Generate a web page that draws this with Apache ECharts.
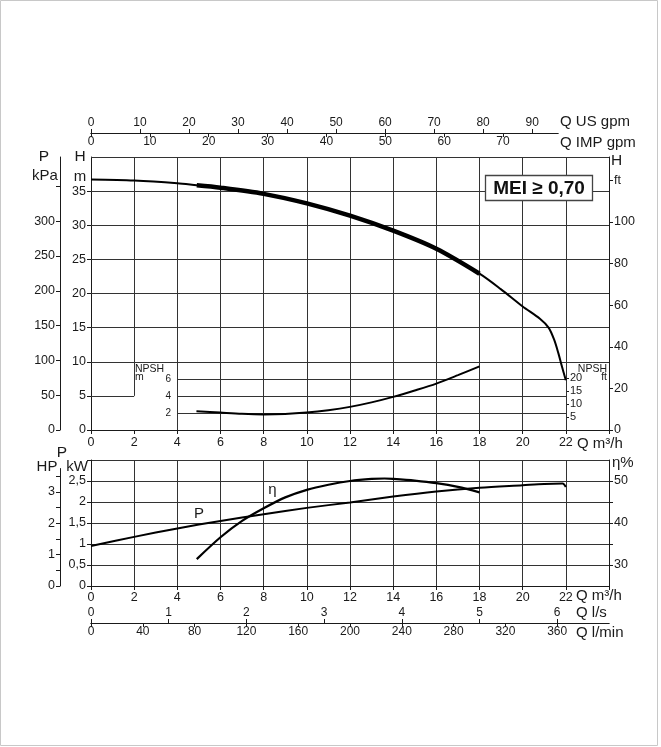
<!DOCTYPE html>
<html><head><meta charset="utf-8">
<script src="https://cdn.jsdelivr.net/npm/echarts@6/dist/echarts.min.js"></script>
<style>html,body{margin:0;padding:0;background:#fff}#c{width:661px;height:747px}</style>
</head><body><div id="c"></div>
<script>
// ---- data ----
const headData = [[0,36.7],[2,36.55],[4,36.15],[4.9,35.85],[6,35.5],[8,34.6],[10,33.2],[12,31.4],[14,29.2],[16,26.55],[18,22.9],[19,20.6],[20,18.1],[20.8,16.3],[21.2,15.0],[21.45,13.3],[21.65,11.3],[21.82,9.3],[22,7.3]];
const headBepRange = [4.9, 18];
const npshData = [[4.9,2.22],[6,2.05],[7,1.9],[8,1.83],[9,1.88],[10,2.05],[11,2.33],[12,2.72],[13,3.25],[14,3.9],[15,4.65],[16,5.46],[17,6.45],[18,7.49]];
const powerData = [[0,0.95],[2,1.17],[4,1.37],[6,1.55],[8,1.71],[10,1.86],[12,1.99],[14,2.13],[16,2.25],[18,2.34],[20,2.40],[21,2.43],[21.85,2.44],[22,2.36]];
const effData = [[4.9,31.4],[6,36.6],[7,40.5],[8,43.5],[9,46.1],[10,47.9],[11,49.1],[12,50.0],[13,50.5],[13.6,50.6],[14,50.5],[15,50.1],[16,49.5],[17,48.6],[18,47.3]];

// tick labels
const qLabels = [0,2,4,6,8,10,12,14,16,18,20,22];
const hMLabels = [0,5,10,15,20,25,30,35];
const kpaTicks = [0,50,100,150,200,250,300,350];
const kpaLabels = [0,50,100,150,200,250,300];
const hFtTicks = [0,20,40,60,80,100,120];
const npshMLabels = [2,4,6];
const npshFtLabels = [5,10,15,20];
const usGpmLabels = [0,10,20,30,40,50,60,70,80,90];
const impGpmLabels = [0,10,20,30,40,50,60,70];
const kwLabels = [0,0.5,1,1.5,2,2.5];
const etaTicks = [30,35,40,45,50];
const etaLabels = [30,40,50];
const hpTicks = [0,0.5,1,1.5,2,2.5,3,3.5];
const hpLabels = [0,1,2,3];
const lsLabels = [0,1,2,3,4,5,6];
const lminLabels = [0,40,80,120,160,200,240,280,320,360];
const meiText = 'MEI ≥ 0,70';

// unit conversions
const KPA_PER_M = 9.80665, M_PER_FT = 0.3048, M3H_PER_USGPM = 0.227125, M3H_PER_IMPGPM = 0.272765;
const KW_PER_HP = 0.7457, M3H_PER_LS = 3.6, M3H_PER_LMIN = 0.06;
const Q_MAX = 24, H_MAX = 40, NPSH_MAX = 8, KW_MAX = 3;
const TOPAX_QMAX = 21.64, HP_MAX = 3.75;

const FONT = 'Liberation Sans, Arial, Helvetica, sans-serif';
const INK = '#1a1a1a', GRID = '#333';
const lbl = (size, extra) => Object.assign({fontFamily: FONT, fontSize: size, color: INK}, extra || {});
const line = {lineStyle: {color: INK, width: 1}};
const SMOOTH = 0.3;

// grid lines of the upper chart (library markLines in data units)
const gridMarks = [];
[4,6,8,10,12,14,16,18,20,22].forEach(q => gridMarks.push({xAxis: q}));
gridMarks.push([{coord: [2,5]}, {coord: [2,H_MAX]}]);
[10,15,20,25,30,35,40].forEach(h => gridMarks.push({yAxis: h}));
gridMarks.push([{coord: [0,5]}, {coord: [2,5]}]);

const chart = echarts.init(document.getElementById('c'), null, {renderer: 'canvas'});

const txt = (x, y, s, size, align) => ({type: 'text', z: 100, x: x, y: y,
  style: {text: s, font: size + 'px ' + FONT, fill: INK, textAlign: align || 'center', textVerticalAlign: 'middle'}});

chart.setOption({
  animation: false,
  backgroundColor: '#fff',
  grid: [
    {left: 91, right: 52, top: 157, height: 273},   // 0 upper
    {left: 177, right: 95, top: 362, height: 68},   // 1 NPSH
    {left: 91, width: 467, top: 133, height: 0},    // 2 top axes
    {left: 91, right: 52, top: 460, height: 126},   // 3 lower
    {left: 60, width: 10, top: 468.55, height: 117.45}, // 4 HP
    {left: 91, right: 52, top: 623, height: 0}      // 5 bottom axes
  ],
  xAxis: [
    {gridIndex: 0, type: 'value', min: 0, max: Q_MAX, interval: 2, axisLine: line,
      axisTick: {length: 4, lineStyle: {color: INK}}, splitLine: {show: false},
      axisLabel: Object.assign(lbl(12.5), {margin: 6, customValues: qLabels})},
    {gridIndex: 1, type: 'value', min: 4, max: 22, show: false},
    {gridIndex: 2, type: 'value', position: 'top', min: 0, max: TOPAX_QMAX / M3H_PER_USGPM, axisLine: line,
      axisTick: {length: 4, customValues: usGpmLabels, lineStyle: {color: INK}}, splitLine: {show: false},
      axisLabel: Object.assign(lbl(12), {margin: 4, customValues: usGpmLabels})},
    {gridIndex: 2, type: 'value', position: 'bottom', min: 0, max: TOPAX_QMAX / M3H_PER_IMPGPM, axisLine: line,
      axisTick: {length: 4, customValues: impGpmLabels, lineStyle: {color: INK}}, splitLine: {show: false},
      axisLabel: Object.assign(lbl(12), {margin: 3, customValues: impGpmLabels})},
    {gridIndex: 3, type: 'value', min: 0, max: Q_MAX, interval: 2, axisLine: line,
      axisTick: {length: 4, lineStyle: {color: INK}}, splitLine: {show: true, lineStyle: {color: GRID}},
      axisLabel: Object.assign(lbl(12.5), {margin: 5, customValues: qLabels})},
    {gridIndex: 4, type: 'value', show: false, min: 0, max: 1},
    {gridIndex: 5, type: 'value', position: 'top', min: 0, max: Q_MAX / M3H_PER_LS, axisLine: line,
      axisTick: {length: 4, customValues: lsLabels, lineStyle: {color: INK}}, splitLine: {show: false},
      axisLabel: Object.assign(lbl(12), {margin: 4, customValues: lsLabels})},
    {gridIndex: 5, type: 'value', position: 'bottom', min: 0, max: Q_MAX / M3H_PER_LMIN, axisLine: line,
      axisTick: {length: 4, customValues: lminLabels, lineStyle: {color: INK}}, splitLine: {show: false},
      axisLabel: Object.assign(lbl(12), {margin: 3, customValues: lminLabels})}
  ],
  yAxis: [
    {gridIndex: 0, type: 'value', min: 0, max: H_MAX, interval: 5, axisLine: line,
      axisTick: {length: 4, customValues: hMLabels, lineStyle: {color: INK}}, splitLine: {show: false},
      axisLabel: Object.assign(lbl(12.5), {margin: 5, customValues: hMLabels})},
    {gridIndex: 0, type: 'value', position: 'left', offset: 31, min: 0, max: H_MAX * KPA_PER_M, axisLine: line,
      axisTick: {length: 4, customValues: kpaTicks, lineStyle: {color: INK}}, splitLine: {show: false},
      axisLabel: Object.assign(lbl(12.5), {margin: 5, customValues: kpaLabels})},
    {gridIndex: 0, type: 'value', position: 'right', min: 0, max: H_MAX / M_PER_FT, axisLine: line,
      axisTick: {length: 4, customValues: hFtTicks, lineStyle: {color: INK}}, splitLine: {show: false},
      axisLabel: Object.assign(lbl(12.5), {margin: 5, customValues: hFtTicks, formatter: v => v === 120 ? 'ft' : String(v)})},
    {gridIndex: 1, type: 'value', min: 0, max: NPSH_MAX, interval: 2, axisLine: {show: false}, axisTick: {show: false},
      splitLine: {show: true, lineStyle: {color: GRID}},
      axisLabel: Object.assign(lbl(10), {margin: 6, customValues: npshMLabels})},
    {gridIndex: 1, type: 'value', position: 'right', min: 0, max: NPSH_MAX / M_PER_FT, axisLine: {show: false},
      axisTick: {show: true, length: 3, customValues: npshFtLabels, lineStyle: {color: INK}}, splitLine: {show: false},
      axisLabel: Object.assign(lbl(11), {margin: 4, customValues: npshFtLabels})},
    {gridIndex: 2, type: 'value', show: false, min: 0, max: 1},
    {gridIndex: 3, type: 'value', min: 0, max: KW_MAX, interval: 0.5, axisLine: line,
      axisTick: {length: 4, lineStyle: {color: INK}}, splitLine: {show: true, lineStyle: {color: GRID}},
      axisLabel: Object.assign(lbl(12.5), {margin: 5, customValues: kwLabels, formatter: v => String(v).replace('.', ',')})},
    {gridIndex: 3, type: 'value', position: 'right', min: 25, max: 55, interval: 5, axisLine: line,
      axisTick: {length: 4, customValues: etaTicks, lineStyle: {color: INK}}, splitLine: {show: false},
      axisLabel: Object.assign(lbl(12.5), {margin: 5, customValues: etaLabels})},
    {gridIndex: 4, type: 'value', min: 0, max: HP_MAX, axisLine: line,
      axisTick: {length: 4, customValues: hpTicks, lineStyle: {color: INK}}, splitLine: {show: false},
      axisLabel: Object.assign(lbl(12.5), {margin: 5, customValues: hpLabels})},
    {gridIndex: 5, type: 'value', show: false, min: 0, max: 1}
  ],
  series: [
    {type: 'line', xAxisIndex: 0, yAxisIndex: 0, data: headData, smooth: SMOOTH, showSymbol: false,
      lineStyle: {color: '#000', width: 2}, z: 5,
      markLine: {silent: true, symbol: ['none','none'], label: {show: false}, animation: false,
        lineStyle: {type: 'solid', color: GRID, width: 1}, emphasis: {disabled: true}, data: gridMarks}},
    {type: 'line', xAxisIndex: 0, yAxisIndex: 0, data: headData.filter(p => p[0] >= headBepRange[0] && p[0] <= headBepRange[1]),
      smooth: SMOOTH, showSymbol: false, lineStyle: {color: '#000', width: 4.5}, z: 6},
    {type: 'line', xAxisIndex: 1, yAxisIndex: 3, data: npshData, smooth: SMOOTH, showSymbol: false,
      lineStyle: {color: '#000', width: 2}, z: 5},
    {type: 'line', xAxisIndex: 4, yAxisIndex: 6, data: powerData, smooth: SMOOTH, showSymbol: false,
      lineStyle: {color: '#000', width: 2}, z: 5},
    {type: 'line', xAxisIndex: 4, yAxisIndex: 7, data: effData, smooth: SMOOTH, showSymbol: false,
      lineStyle: {color: '#000', width: 2.2}, z: 5}
  ],
  graphic: [
    {type: 'rect', z: 0, shape: {x: 0.5, y: 0.5, width: 657, height: 745}, style: {fill: 'none', stroke: '#c8c8c8', lineWidth: 1}},
    txt(560, 122, 'Q US gpm', 15, 'left'),
    txt(560, 143, 'Q IMP gpm', 15, 'left'),
    txt(611, 161, 'H', 15.5, 'left'),
    txt(44, 157, 'P', 15.5),
    txt(45, 175.5, 'kPa', 15),
    txt(80, 157, 'H', 15.5),
    txt(80, 177, 'm', 15),
    txt(577, 443.5, 'Q m³/h', 15, 'left'),
    txt(576, 596, 'Q m³/h', 15, 'left'),
    txt(576, 613, 'Q l/s', 15, 'left'),
    txt(576, 633, 'Q l/min', 15, 'left'),
    txt(612, 463, 'η%', 15, 'left'),
    txt(62, 452.5, 'P', 15.5),
    txt(47, 467, 'HP', 15),
    txt(77, 467, 'kW', 15),
    txt(199, 514, 'P', 15),
    txt(272.5, 490, 'η', 15),
    txt(135, 369, 'NPSH', 10.5, 'left'),
    txt(135, 377.5, 'm', 10.5, 'left'),
    txt(607, 369, 'NPSH', 10.5, 'right'),
    txt(607, 377.5, 'ft', 10.5, 'right'),
    {type: 'rect', z: 100, shape: {x: 485.5, y: 175.5, width: 107, height: 25}, style: {fill: '#fff', stroke: '#444', lineWidth: 1.3}},
    {type: 'text', z: 101, x: 539, y: 188.5, style: {text: meiText, font: 'bold 19px "Liberation Sans Narrow", "Arial Narrow", ' + FONT,
      fill: '#111', textAlign: 'center', textVerticalAlign: 'middle'}}
  ]
});
</script></body></html>
